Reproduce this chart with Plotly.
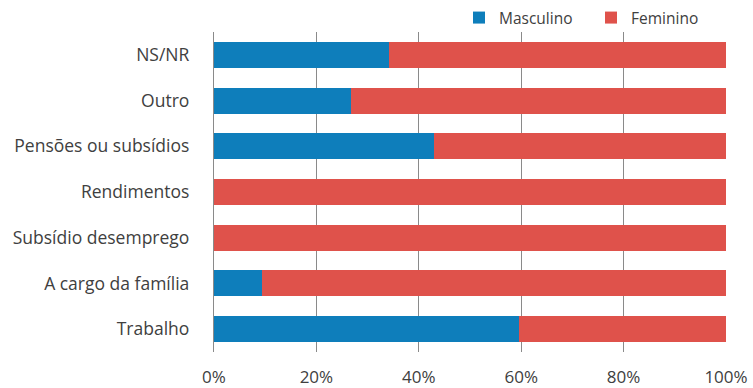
import plotly.graph_objects as go

# Source of income by sex (share of each category, %)
categories = ["Trabalho", "A cargo da família", "Subsídio desemprego",
              "Rendimentos", "Pensões ou subsídios", "Outro", "NS/NR"]
masculino = [59.5, 9.4, 0.0, 0.0, 43.0, 26.8, 34.2]
feminino = [100 - v for v in masculino]
x_ticks = [0, 20, 40, 60, 80, 100]
x_tick_labels = ["0%", "20%", "40%", "60%", "80%", "100%"]

BLUE = "#0e7ebb"
RED = "#df524b"
FONT = "Open Sans"
TEXT = "#404040"

fig = go.Figure()
fig.add_trace(go.Bar(y=categories, x=masculino, name="Masculino", orientation="h",
                     marker=dict(color=BLUE, line=dict(width=0))))
fig.add_trace(go.Bar(y=categories, x=feminino, name="Feminino", orientation="h",
                     marker=dict(color=RED, line=dict(width=0))))

fig.update_layout(
    width=753, height=388,
    barmode="stack", bargap=0.43,
    plot_bgcolor="white", paper_bgcolor="white",
    margin=dict(l=214, r=27, t=32, b=36, autoexpand=False),
    font=dict(family=FONT, size=16, color=TEXT),
    legend=dict(orientation="h", x=(723 - 214) / 512, xref="paper", xanchor="right",
                y=1 - 18 / 388, yref="container", yanchor="middle",
                font=dict(size=15.5, color=TEXT), traceorder="normal",
                itemwidth=30, entrywidth=87, entrywidthmode="pixels",
                bgcolor="rgba(0,0,0,0)"),
    showlegend=True,
)
fig.update_xaxes(range=[0, 100], tickvals=x_ticks, ticktext=x_tick_labels,
                 showgrid=True, gridcolor="#8a8a8a", gridwidth=1.3,
                 zeroline=False, showline=False, ticks="",
                 ticklabelstandoff=13, automargin=False,
                 tickfont=dict(size=17, color=TEXT))
fig.update_yaxes(showgrid=False, showline=True, linecolor="#8a8a8a", linewidth=1.3,
                 ticks="", ticklabelstandoff=20, automargin=False,
                 tickfont=dict(size=17.5, color=TEXT))

fig.write_html("out.html")
